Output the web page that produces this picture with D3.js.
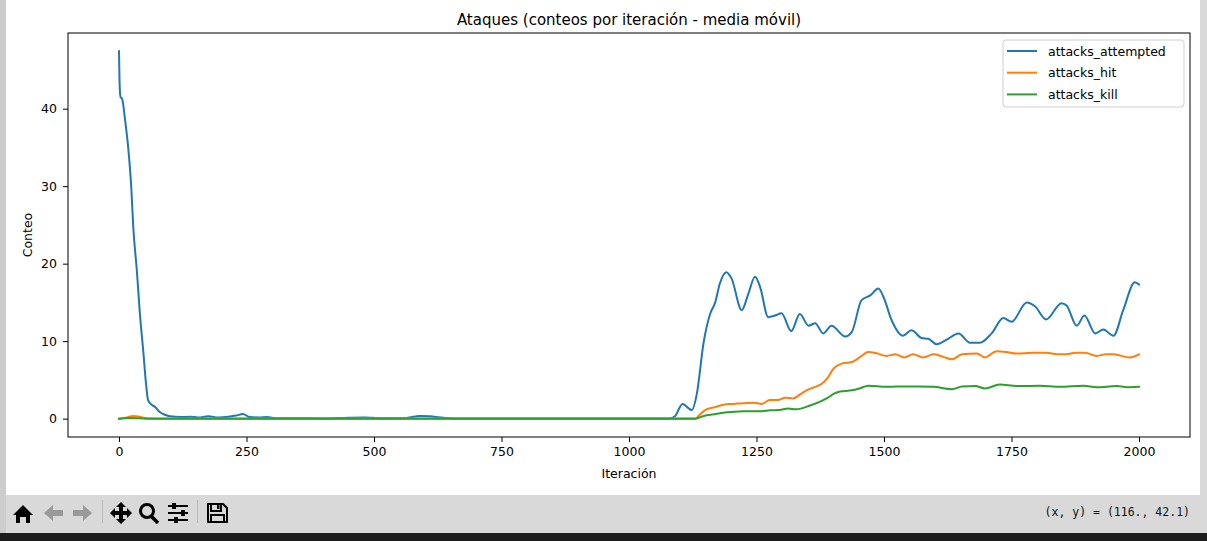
<!DOCTYPE html>
<html>
<head>
<meta charset="utf-8">
<script src="https://cdn.jsdelivr.net/npm/d3@7"></script>
<style>
  html, body { margin: 0; padding: 0; background: #fff; overflow: hidden; }
  svg { display: block; }
</style>
</head>
<body>
<svg id="fig" width="1207" height="541"></svg>
<script>
// moving average of attack counts per iteration
const attemptedIter = [0, 1, 3, 6, 12, 18, 24, 28, 35, 41, 48, 53, 57, 64, 71, 80, 90, 100, 120, 140, 155, 175, 195, 215, 230, 243, 256, 275, 290, 310, 350, 400, 450, 480, 510, 560, 590, 610, 630, 660, 1080, 1090, 1105, 1123, 1133, 1146, 1159, 1169, 1178, 1191, 1201, 1221, 1234, 1247, 1257, 1273, 1286, 1299, 1318, 1335, 1352, 1365, 1381, 1397, 1424, 1437, 1456, 1473, 1489, 1499, 1515, 1537, 1554, 1574, 1587, 1603, 1623, 1646, 1669, 1688, 1711, 1734, 1750, 1780, 1796, 1818, 1848, 1858, 1878, 1893, 1914, 1930, 1950, 1969, 1992, 2000];
const attemptedVals = [47.4, 43.6, 41.5, 41.3, 38.5, 35.0, 29.9, 24.7, 19.1, 13.5, 8.4, 4.5, 2.4, 1.8, 1.5, 0.85, 0.5, 0.3, 0.2, 0.25, 0.15, 0.3, 0.15, 0.25, 0.4, 0.6, 0.2, 0.15, 0.2, 0.05, 0.05, 0.02, 0.12, 0.15, 0.05, 0.05, 0.35, 0.3, 0.15, 0.02, 0.02, 0.3, 1.9, 1.1, 3.2, 9.7, 13.5, 15.0, 17.4, 18.9, 18.1, 14.0, 16.1, 18.3, 17.0, 13.1, 13.3, 13.6, 11.3, 13.5, 12.0, 12.3, 11.0, 12.0, 10.6, 11.2, 15.3, 15.9, 16.8, 15.7, 12.7, 10.7, 11.4, 10.4, 10.3, 9.6, 10.2, 11.0, 9.8, 9.8, 11.0, 13.0, 12.5, 15.0, 14.5, 12.8, 14.9, 14.6, 12.0, 13.3, 11.0, 11.5, 10.7, 14.0, 17.6, 17.3];

const hitIter = [0, 15, 28, 40, 55, 100, 1130, 1140, 1152, 1170, 1185, 1205, 1224, 1245, 1260, 1276, 1292, 1306, 1322, 1335, 1348, 1365, 1378, 1390, 1401, 1417, 1437, 1452, 1469, 1487, 1505, 1522, 1540, 1557, 1577, 1597, 1615, 1633, 1653, 1682, 1698, 1721, 1740, 1760, 1792, 1818, 1840, 1858, 1875, 1894, 1917, 1935, 1950, 1982, 2000];
const hitVals = [0, 0.15, 0.35, 0.25, 0.05, 0.02, 0.02, 0.6, 1.2, 1.5, 1.8, 1.9, 2.0, 2.05, 1.9, 2.4, 2.4, 2.7, 2.6, 3.1, 3.65, 4.1, 4.5, 5.3, 6.45, 7.1, 7.3, 7.9, 8.6, 8.4, 8.1, 8.3, 7.9, 8.3, 7.9, 8.3, 8.0, 7.65, 8.3, 8.4, 7.9, 8.7, 8.6, 8.4, 8.5, 8.5, 8.3, 8.3, 8.5, 8.5, 8.1, 8.3, 8.3, 7.9, 8.3];

const killIter = [0, 20, 40, 60, 1130, 1140, 1152, 1170, 1185, 1205, 1224, 1260, 1276, 1295, 1312, 1328, 1355, 1378, 1390, 1401, 1414, 1437, 1452, 1469, 1505, 1525, 1564, 1597, 1633, 1653, 1679, 1698, 1727, 1760, 1806, 1845, 1891, 1917, 1956, 1982, 2000];
const killVals = [0, 0.08, 0.05, 0, 0, 0.2, 0.43, 0.6, 0.77, 0.88, 0.94, 0.94, 1.07, 1.1, 1.3, 1.2, 1.7, 2.3, 2.7, 3.2, 3.5, 3.65, 3.9, 4.25, 4.1, 4.15, 4.15, 4.1, 3.8, 4.15, 4.2, 3.9, 4.4, 4.2, 4.25, 4.1, 4.25, 4.05, 4.2, 4.05, 4.1];

const seriesNames = ['attacks_attempted', 'attacks_hit', 'attacks_kill'];
const seriesColors = ['#1f77b4', '#ff7f0e', '#2ca02c'];
const xTicks = [0, 250, 500, 750, 1000, 1250, 1500, 1750, 2000];
const yTicks = [0, 10, 20, 30, 40];
const titleText = 'Ataques (conteos por iteración - media móvil)';
const xLabel = 'Iteración';
const yLabel = 'Conteo';
const coordText = '(x, y) = (116., 42.1)';

const series = [
  { name: seriesNames[0], color: seriesColors[0], pts: attemptedIter.map((it, i) => [it, attemptedVals[i]]) },
  { name: seriesNames[1], color: seriesColors[1], pts: hitIter.map((it, i) => [it, hitVals[i]]) },
  { name: seriesNames[2], color: seriesColors[2], pts: killIter.map((it, i) => [it, killVals[i]]) }
];

const svg = d3.select('#fig');
const font = 'DejaVu Sans, sans-serif';

// window chrome: side strips, toolbar, task bar
svg.append('rect').attr('width', 1207).attr('height', 541).attr('fill', '#ffffff');
svg.append('rect').attr('x', 0).attr('y', 0).attr('width', 6).attr('height', 534).attr('fill', '#cdcdcd');
svg.append('rect').attr('x', 1200).attr('y', 0).attr('width', 7).attr('height', 534).attr('fill', '#d9d9d9');
svg.append('rect').attr('x', 6).attr('y', 495).attr('width', 1194).attr('height', 38).attr('fill', '#d9d9d9');
svg.append('rect').attr('x', 0).attr('y', 533).attr('width', 1207).attr('height', 8).attr('fill', '#1c1c1c');

// axes area
const margin = { left: 68, top: 33, right: 1190, bottom: 437 };

const x = d3.scaleLinear().domain([-100, 2100]).range([margin.left, margin.right]);
const yMax = d3.max(attemptedVals);
const pad = yMax * 0.05;
const y = d3.scaleLinear().domain([-pad, yMax + pad]).range([margin.bottom, margin.top]);

const g = svg.append('g');

const line = d3.line()
  .x(d => x(d[0]))
  .y(d => y(d[1]))
  .curve(d3.curveMonotoneX);

series.forEach(s => {
  g.append('path')
    .datum(s.pts)
    .attr('fill', 'none')
    .attr('stroke', s.color)
    .attr('stroke-width', 2)
    .attr('stroke-linejoin', 'round')
    .attr('stroke-linecap', 'square')
    .attr('d', line);
});

// axes
const xAxis = g.append('g')
  .attr('transform', `translate(0,${margin.bottom})`)
  .call(d3.axisBottom(x).tickValues(xTicks).tickSize(5).tickPadding(5).tickFormat(d3.format('d')));
const yAxis = g.append('g')
  .attr('transform', `translate(${margin.left},0)`)
  .call(d3.axisLeft(y).tickValues(yTicks).tickSize(5).tickPadding(6).tickFormat(d3.format('d')));

[xAxis, yAxis].forEach(a => {
  a.select('.domain').remove();
  a.selectAll('.tick line').attr('stroke', '#000').attr('stroke-width', 1);
  a.selectAll('.tick text').attr('font-family', font).attr('font-size', 12.5).attr('fill', '#000');
});

g.append('rect')
  .attr('x', margin.left).attr('y', margin.top)
  .attr('width', margin.right - margin.left).attr('height', margin.bottom - margin.top)
  .attr('fill', 'none').attr('stroke', '#000').attr('stroke-width', 1);

// title and labels
svg.append('text')
  .attr('x', (margin.left + margin.right) / 2).attr('y', 25)
  .attr('text-anchor', 'middle')
  .attr('font-family', font).attr('font-size', 15)
  .text(titleText);

svg.append('text')
  .attr('x', (margin.left + margin.right) / 2).attr('y', 478)
  .attr('text-anchor', 'middle')
  .attr('font-family', font).attr('font-size', 12.5)
  .text(xLabel);

svg.append('text')
  .attr('transform', `translate(32,${(margin.top + margin.bottom) / 2}) rotate(-90)`)
  .attr('text-anchor', 'middle')
  .attr('font-family', font).attr('font-size', 12.5)
  .text(yLabel);

// legend
const legend = svg.append('g').attr('transform', 'translate(1003,40)');
legend.append('rect')
  .attr('width', 181).attr('height', 67).attr('rx', 3)
  .attr('fill', '#fff').attr('fill-opacity', 0.8)
  .attr('stroke', '#d0d0d0');
series.forEach((s, i) => {
  const row = legend.append('g').attr('transform', `translate(0,${11 + i * 21.7})`);
  row.append('line')
    .attr('x1', 4).attr('x2', 34)
    .attr('stroke', s.color).attr('stroke-width', 2);
  row.append('text')
    .attr('x', 45).attr('y', 4.5)
    .attr('font-family', font).attr('font-size', 12.5)
    .text(s.name);
});

// toolbar icons
const tb = svg.append('g').attr('fill', '#000');
// home
tb.append('path').attr('d', 'M13,515 L23,505 L33,515 L30,515 L30,523 L26,523 L26,517 L20,517 L20,523 L16,523 L16,515 Z');
// back / forward (disabled, dotted look)
tb.append('path').attr('d', 'M44,513 L53,505 L53,510 L63,510 L63,516 L53,516 L53,521 Z').attr('fill', '#9a9a9a');
tb.append('path').attr('d', 'M92,513 L83,505 L83,510 L73,510 L73,516 L83,516 L83,521 Z').attr('fill', '#9a9a9a');
// separators
tb.append('rect').attr('x', 102).attr('y', 500).attr('width', 1).attr('height', 23).attr('fill', '#b8b8b8');
tb.append('rect').attr('x', 197).attr('y', 500).attr('width', 1).attr('height', 23).attr('fill', '#b8b8b8');
// move
tb.append('path').attr('d', 'M121,502 L126,507 L123,507 L123,511 L127,511 L127,508 L132,513 L127,518 L127,515 L123,515 L123,519 L126,519 L121,524 L116,519 L119,519 L119,515 L115,515 L115,518 L110,513 L115,508 L115,511 L119,511 L119,507 L116,507 Z');
// zoom
tb.append('circle').attr('cx', 147).attr('cy', 511).attr('r', 6.5).attr('fill', 'none').attr('stroke', '#000').attr('stroke-width', 3);
tb.append('line').attr('x1', 151).attr('y1', 516).attr('x2', 158).attr('y2', 523).attr('stroke', '#000').attr('stroke-width', 3.5);
// configure
[506, 513, 520].forEach((yy, i) => {
  tb.append('rect').attr('x', 168).attr('y', yy - 1).attr('width', 20).attr('height', 2);
  tb.append('rect').attr('x', [172, 181, 174][i]).attr('y', yy - 3).attr('width', 4).attr('height', 6);
});
// save (floppy outline)
tb.append('path')
  .attr('d', 'M208,504 L223,504 L227,508 L227,522 L208,522 Z M211,504 L211,511 L221,511 L221,504 M211,522 L211,515 L224,515 L224,522')
  .attr('fill', 'none').attr('stroke', '#000').attr('stroke-width', 2);
tb.append('rect').attr('x', 217).attr('y', 505).attr('width', 2.5).attr('height', 4);

svg.append('text')
  .attr('x', 1190).attr('y', 516)
  .attr('text-anchor', 'end')
  .attr('font-family', 'DejaVu Sans Mono, monospace').attr('font-size', 11.5)
  .attr('fill', '#111')
  .text(coordText);
</script>
</body>
</html>
